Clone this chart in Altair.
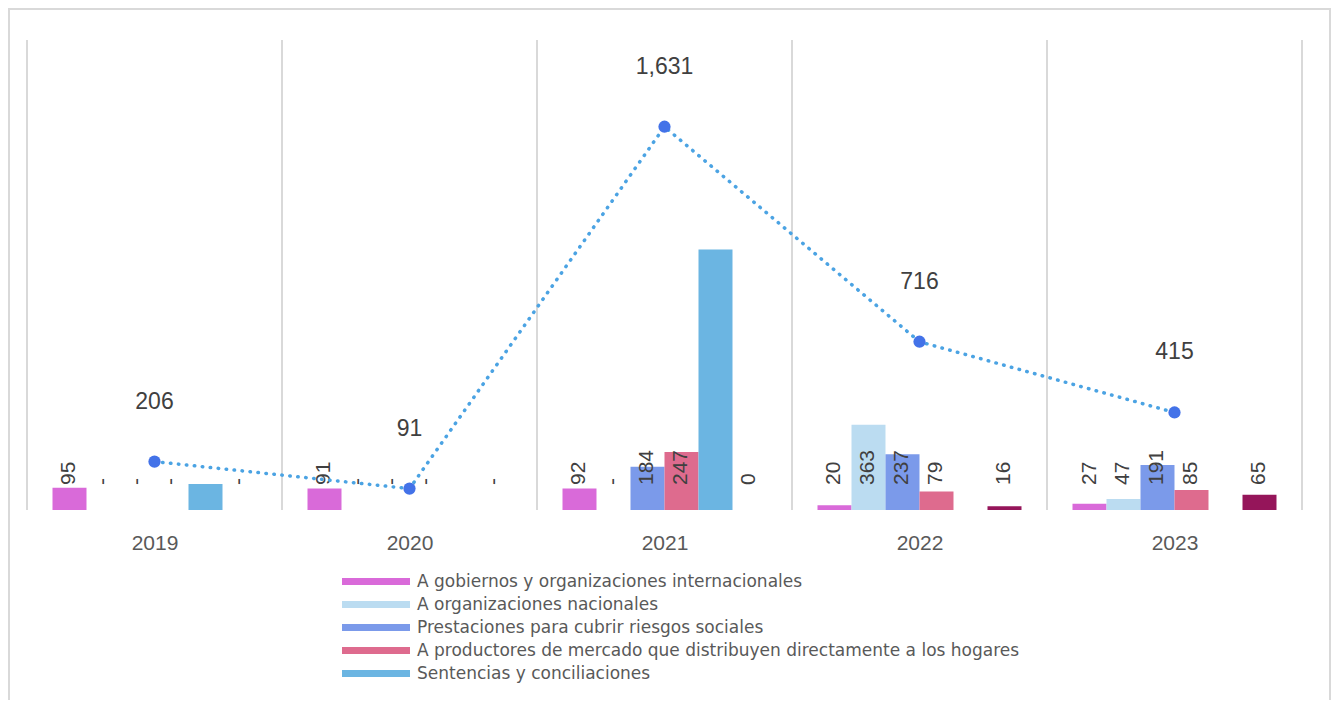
import altair as alt
import pandas as pd

years = ["2019", "2020", "2021", "2022", "2023"]
categories = [
    "A gobiernos  y organizaciones internacionales",
    "A organizaciones nacionales",
    "Prestaciones para cubrir riesgos sociales",
    "A productores de mercado que distribuyen directamente a los hogares",
    "Sentencias y conciliaciones",
    "Otros",
]
colors = ["#D96AD9", "#BBDCF1", "#7B9AEA", "#DE6B8E", "#6BB5E2", "#95155A"]

gobiernos = [95, 91, 92, 20, 27]
nacionales = [0, 0, 0, 363, 47]
prestaciones = [0, 0, 184, 237, 191]
productores = [0, 0, 247, 79, 85]
sentencias = [111, None, 1108, None, None]
otros = [0, 0, 0.4, 16, 65]
totals = [206, 91, 1631, 716, 415]
y_max = 2000

series = [gobiernos, nacionales, prestaciones, productores, sentencias, otros]
rows = []
for j, (cat, vals) in enumerate(zip(categories, series)):
    for i, (y, v) in enumerate(zip(years, vals)):
        if v is not None:
            rows.append({"year": y, "i": i, "cat": cat, "j": j, "value": v})
bars_df = pd.DataFrame(rows)
tot_df = pd.DataFrame({"year": years, "i": list(range(len(years))), "total": totals})
bound_df = pd.DataFrame({"b": list(range(len(years) + 1))})

FONT_N = "Liberation Sans Narrow, Liberation Sans"
W, H = 1275, 470
GROUP = 0.8
STEP = GROUP / len(categories)
year_js = "[" + ",".join("'%s'" % y for y in years) + "]"

x_scale = alt.Scale(domain=[0, len(years)], nice=False, zero=False)
y_scale = alt.Scale(domain=[0, y_max], nice=False)

frame = alt.Chart(tot_df).transform_filter("datum.i == 0").mark_rect(
    fill="white", fillOpacity=0, stroke="#D9D9D9", strokeWidth=2).encode(
    x=alt.value(-18), x2=alt.value(W + 28), y=alt.value(-31), y2=alt.value(H + 260))

grid = alt.Chart(bound_df).transform_calculate(lo="0", hi=str(y_max)).mark_rule(
    color="#D9D9D9", strokeWidth=2).encode(
    x=alt.X("b:Q", scale=x_scale,
            axis=alt.Axis(title=None, values=[k + 0.5 for k in range(len(years))],
                          labelExpr=year_js + "[floor(datum.value)]",
                          domain=False, ticks=False, grid=False,
                          labelFont=FONT_N, labelFontSize=21, labelColor="#595959",
                          labelPadding=22, labelAngle=0)),
    y=alt.Y("lo:Q", scale=y_scale, axis=None),
    y2="hi:Q",
)

bar_base = alt.Chart(bars_df).transform_calculate(
    x0="datum.i + %f + datum.j * %f" % ((1 - GROUP) / 2, STEP),
    x1="datum.i + %f + (datum.j + 1) * %f" % ((1 - GROUP) / 2, STEP),
    xc="datum.i + %f + (datum.j + 0.5) * %f" % ((1 - GROUP) / 2, STEP),
    base="0",
)

bars = bar_base.mark_bar().encode(
    x=alt.X("x0:Q", scale=x_scale),
    x2="x1:Q",
    y=alt.Y("value:Q", scale=y_scale),
    y2="base:Q",
    color=alt.Color("cat:N", scale=alt.Scale(domain=categories, range=colors),
                    legend=alt.Legend(values=categories[:5], orient="none", legendX=315, legendY=531,
                                      direction="vertical", title=None, padding=0,
                                      symbolType="M-1,-0.1L1,-0.1L1,0.1L-1,0.1Z", symbolSize=4624,
                                      symbolStrokeWidth=0, symbolOpacity=1,
                                      clipHeight=21, rowPadding=2,
                                      labelFont="DejaVu Sans", labelFontSize=17,
                                      labelColor="#595959", labelLimit=0, labelOffset=7)),
)

bar_text = bar_base.transform_filter(
    "datum.cat != 'Sentencias y conciliaciones'"
).transform_calculate(
    lab="datum.value == 0 ? '-' : format(datum.value, ',.0f')"
).mark_text(angle=270, align="left", baseline="middle", dx=25, font=FONT_N,
            fontSize=21, color="#404040").encode(
    x=alt.X("xc:Q", scale=x_scale),
    y=alt.Y("base:Q", scale=y_scale),
    text="lab:N",
)

tot_base = alt.Chart(tot_df).transform_calculate(xm="datum.i + 0.5")
line = tot_base.mark_line(strokeDash=[0.5, 7.5], strokeCap="round", strokeWidth=3.5,
                          color="#4BA3E3").encode(
    x=alt.X("xm:Q", scale=x_scale),
    y=alt.Y("total:Q", scale=y_scale),
)
pts = tot_base.mark_point(filled=True, size=150, color="#4372E8", opacity=1).encode(
    x=alt.X("xm:Q", scale=x_scale),
    y=alt.Y("total:Q", scale=y_scale),
)
line_text = tot_base.mark_text(font=FONT_N, fontSize=23, color="#404040",
                               baseline="middle", dy=-60).encode(
    x=alt.X("xm:Q", scale=x_scale),
    y=alt.Y("total:Q", scale=y_scale),
    text=alt.Text("total:Q", format=","),
)

chart = alt.layer(frame, grid, bars, bar_text, line, pts, line_text).properties(
    width=W, height=H,
    padding={"left": 19, "top": 32, "right": 29, "bottom": 190},
    autosize=alt.AutoSizeParams(type="none"),
).configure_view(strokeWidth=0)

chart.save("out.html", embed_options={"renderer": "svg", "actions": False})
